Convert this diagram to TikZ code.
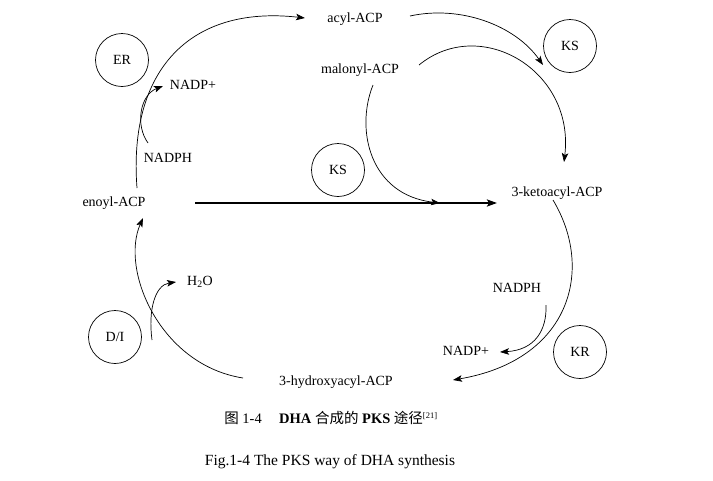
\documentclass[tikz,border=0pt]{standalone}
\usepackage{fontspec}
\setmainfont{Liberation Serif}
\newfontfamily\cjk{Noto Sans CJK SC}
\usetikzlibrary{arrows.meta}
\tikzset{
  lbl/.style={inner sep=0pt, font=\fontsize{14}{16}\selectfont},
  enz/.style={draw, circle, minimum size=53pt, inner sep=0pt, line width=0.7pt, font=\fontsize{14}{16}\selectfont},
  conn/.style={line width=0.7pt, -{Stealth[length=9pt,width=6.5pt,inset=2pt]}},
  plain/.style={line width=0.7pt},
  thick arrow/.style={line width=2pt, -{Stealth[length=10pt,width=7pt,inset=2pt]}}
}
\begin{document}
\begin{tikzpicture}[x=1pt,y=-1pt]
\useasboundingbox (0,0) rectangle (713,480);
% labels
\node[lbl] (acyl) at (355,19) {acyl-ACP};
\node[lbl] (malonyl) at (360,70) {malonyl-ACP};
\node[lbl] (nadpA) at (193,85) {NADP+};
\node[lbl] (nadphA) at (168,158) {NADPH};
\node[lbl] (enoyl) at (114,203) {enoyl-ACP};
\node[lbl] (keto) at (557,193) {3-ketoacyl-ACP};
\node[lbl] (nadphB) at (517,288) {NADPH};
\node[lbl] (nadpB) at (466,351) {NADP+};
\node[lbl] (water) at (200,282) {H\textsubscript{2}O};
\node[lbl] (hydroxy) at (336,382) {3-hydroxyacyl-ACP};
% enzymes
\node[enz] (ER) at (122,60) {ER};
\node[enz] (KS1) at (570,46) {KS};
\node[enz] (KS2) at (338,170) {KS};
\node[enz] (KR) at (580,352) {KR};
\node[enz] (DI) at (115,337) {D/I};
% coordinates for curve ends
\coordinate (eTop) at (137,188);
\coordinate (aIn) at (305,18);
\coordinate (aOut) at (410,16);
\coordinate (join) at (543,65);
\coordinate (mR) at (419,65);
\coordinate (kIn) at (564,162);
\coordinate (mD) at (373,85);
\coordinate (lineL) at (195,203);
\coordinate (lineM) at (440,203);
\coordinate (lineR) at (497,203);
\coordinate (kOut) at (553,200);
\coordinate (hIn) at (453,380);
\coordinate (nbS) at (546,305);
\coordinate (nbE) at (500,352);
\coordinate (hOut) at (243,378);
\coordinate (eIn) at (143,218);
\coordinate (wS) at (152,340);
\coordinate (wE) at (176,282);
\coordinate (naS) at (148,143);
\coordinate (naE) at (163,86);
% connectors
\draw[conn] (eTop) .. controls (128,70) and (190,5) .. (aIn);
\draw[conn] (aOut) .. controls (460,5) and (515,25) .. (join);
\draw[conn] (mR) .. controls (480,15) and (575,70) .. (kIn);
\draw[conn] (mD) .. controls (355,130) and (370,195) .. (lineM);
\draw[thick arrow] (lineL) -- (lineR);
\draw[conn] (kOut) .. controls (595,270) and (570,360) .. (hIn);
\draw[conn] (nbS) .. controls (547,330) and (535,350) .. (nbE);
\draw[conn] (hOut) .. controls (160,365) and (120,270) .. (eIn);
\draw[conn] (wS) .. controls (148,310) and (155,285) .. (wE);
\draw[conn] (naS) .. controls (135,125) and (140,95) .. (naE);
% captions
\node[inner sep=0pt, font=\fontsize{14.5}{16}\selectfont] (capcn) at (331,418)
  {{\cjk 图}~1-4\hspace{1.2em}\textbf{DHA}~{\cjk 合成的}~\textbf{PKS}~{\cjk 途径}\textsuperscript{\fontsize{8.5}{9}\selectfont[21]}};
\node[inner sep=0pt, font=\fontsize{15.5}{17}\selectfont] (capen) at (330,462)
  {Fig.1-4 The PKS way of DHA synthesis};
\end{tikzpicture}
\end{document}
